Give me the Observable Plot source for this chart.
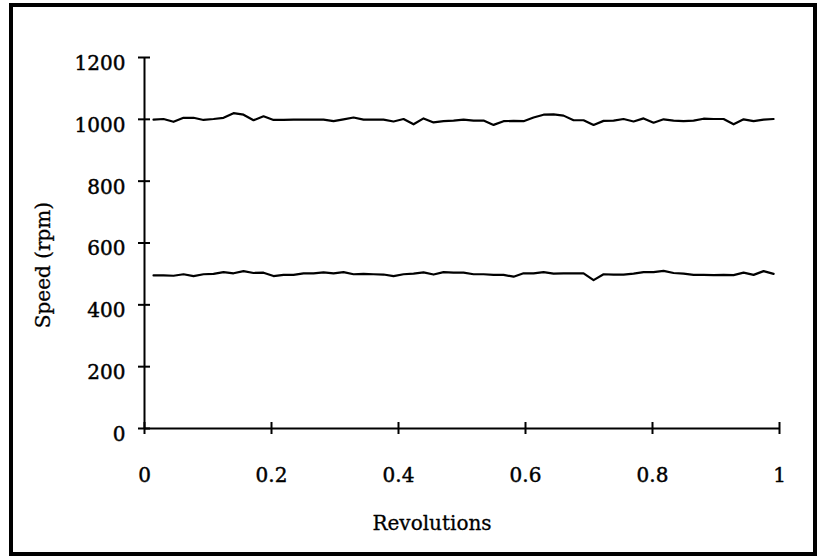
<!DOCTYPE html>
<html><head><meta charset="utf-8">
<script src="https://cdn.jsdelivr.net/npm/d3@7"></script>
<script src="https://cdn.jsdelivr.net/npm/@observablehq/plot@0.6"></script>
<style>
body{margin:0;background:#fff;}
#wrap{position:relative;width:819px;height:556px;overflow:hidden;}
#border{position:absolute;left:9px;top:3px;width:808px;height:553px;box-sizing:border-box;border:4px solid #000;pointer-events:none;}
</style></head><body>
<div id="wrap"><div id="chart"></div><div id="border"></div></div>
<script>
const xTicks = [0, 0.2, 0.4, 0.6, 0.8, 1];
const xTickLabels = ["0", "0.2", "0.4", "0.6", "0.8", "1"];
const yTicks = [0, 200, 400, 600, 800, 1000, 1200];
const yTickLabels = ["0", "200", "400", "600", "800", "1000", "1200"];
const xLabel = "Revolutions";
const yLabel = "Speed (rpm)";
const speed1000 = [999,1001,992,1005,1005,998,1001,1005,1020,1015,997,1010,998,998,999,999,999,999,994,1000,1006,
  999,999,999,993,1001,984,1003,990,994,996,999,996,996,982,994,995,994,1006,1015,1016,1012,
  997,997,982,995,996,1001,993,1003,989,1000,996,994,996,1002,1001,1001,984,1000,994,999,1001];
const speed500 = [495,495,494,499,493,499,500,506,502,509,503,504,493,497,497,502,502,505,502,506,499,
  500,499,498,493,499,501,505,498,506,504,504,499,499,497,497,491,502,502,506,501,502,
  502,502,480,499,498,498,501,506,506,510,503,501,497,497,496,497,496,504,497,509,500];
const firstSample = 0.0142, sampleStep = 0.01575;
const revs = speed1000.map((_, i) => firstSample + i * sampleStep);

const data = [
  ...speed1000.map((v, i) => ({series: "1000", rev: revs[i], speed: v})),
  ...speed500.map((v, i) => ({series: "500", rev: revs[i], speed: v}))
];

const textStyle = {fill: "#000", stroke: "#000", strokeWidth: 0.45};

const chart = Plot.plot({
  width: 819, height: 556,
  marginLeft: 144, marginRight: 40, marginTop: 57, marginBottom: 128,
  x: {domain: [0, 1], axis: null},
  y: {domain: [0, 1200], axis: null},
  style: {fontFamily: '"DejaVu Serif", serif', fontSize: "20px", fontWeight: "normal", background: "transparent", color: "#000"},
  marks: [
    Plot.ruleX([0], {stroke: "#000", strokeWidth: 2}),
    Plot.ruleY([0], {stroke: "#000", strokeWidth: 2}),
    Plot.ruleX(xTicks, {x: d => d, y1: () => 0, y2: () => 0, insetTop: -6, insetBottom: -6, stroke: "#000", strokeWidth: 2}),
    Plot.ruleY(yTicks, {y: d => d, x1: () => 0, x2: () => 0, insetLeft: -6, insetRight: -6, stroke: "#000", strokeWidth: 2}),
    Plot.text(xTicks, {x: d => d, y: () => 0, text: (d, i) => xTickLabels[i], dy: 47, lineAnchor: "middle", textAnchor: "middle", ...textStyle}),
    Plot.text(yTicks, {x: () => 0, y: d => d, text: (d, i) => yTickLabels[i], dx: -19, dy: 6, lineAnchor: "middle", textAnchor: "end", ...textStyle}),
    Plot.line(data, {x: "rev", y: "speed", z: "series", stroke: "#000", strokeWidth: 2.2}),
    Plot.text([xLabel], {frameAnchor: "bottom", dx: -30, dy: 95, lineAnchor: "middle", textAnchor: "middle", ...textStyle, strokeWidth: 0.3}),
    Plot.text([yLabel], {frameAnchor: "left", rotate: -90, dx: -101, dy: 22, lineAnchor: "middle", textAnchor: "middle", ...textStyle, strokeWidth: 0.3})
  ]
});
document.getElementById("chart").appendChild(chart);
</script>
</body></html>
